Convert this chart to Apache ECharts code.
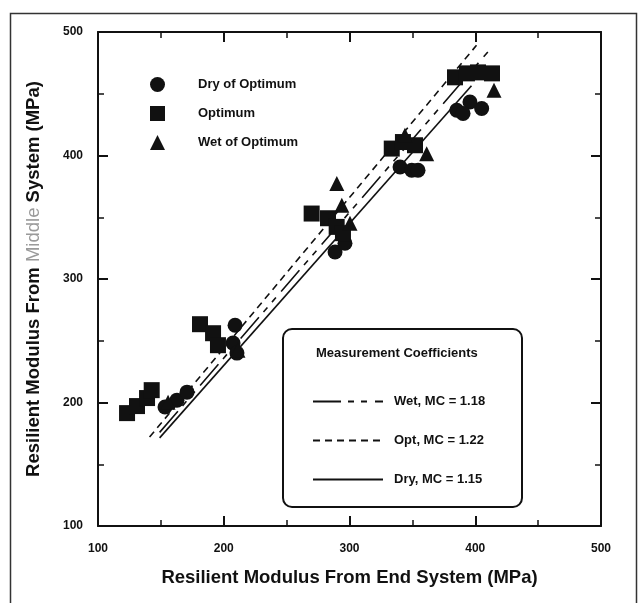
<!DOCTYPE html>
<html>
<head>
<meta charset="utf-8">
<script src="https://cdn.jsdelivr.net/npm/echarts@6/dist/echarts.min.js"></script>
<style>
  html, body { margin: 0; padding: 0; background: #fff; }
  #chart { width: 642px; height: 603px; }
</style>
</head>
<body>
<div id="chart"></div>
<script>
// Resilient modulus: middle system vs end system (MPa)
const dryOfOptimum = [
  [153.3, 196.3], [162.8, 201.9], [170.8, 208.4],
  [209.0, 262.6], [207.4, 248.1], [210.5, 240.0],
  [288.5, 321.9], [296.4, 329.0],
  [340.2, 390.7], [349.5, 388.0], [354.5, 388.0],
  [385.3, 436.6], [395.8, 443.3], [405.1, 438.0], [390.3, 434.1]
];
const optimum = [
  [123.1, 191.4], [131.0, 197.1], [139.0, 203.6], [142.7, 210.0],
  [181.1, 263.4], [191.5, 256.1], [195.4, 246.4],
  [269.9, 353.0], [282.9, 349.2], [289.8, 342.2], [294.8, 337.1],
  [333.6, 405.6], [342.5, 410.9], [352.1, 408.3],
  [383.9, 463.3], [393.4, 466.5], [402.2, 467.3], [413.3, 466.5]
];
const wetOfOptimum = [
  [155.7, 200.3], [211.3, 242.4],
  [289.9, 377.3], [293.9, 359.7], [300.4, 345.1],
  [344.1, 416.3], [361.4, 401.5],
  [414.9, 452.8]
];

// Fitted lines y = MC * x over the range each one spans
const fitNames = ['Wet, MC = 1.18', 'Opt, MC = 1.22', 'Dry, MC = 1.15'];
const fitCoefficients = [1.18, 1.22, 1.15];
const fitRanges = [[149, 410], [141, 401], [149, 397]];
const fitDashes = [[28, 7, 6, 7, 6, 8], [7, 5], 'solid'];

const xTicks = [100, 200, 300, 400, 500];
const yTicks = [100, 200, 300, 400, 500];

const FONT = '"Liberation Sans", Arial, sans-serif';
const INK = '#111';

const chart = echarts.init(document.getElementById('chart'), null, { renderer: 'canvas' });

function axisCommon(showLabels) {
  return {
    min: xTicks[0], max: xTicks[xTicks.length - 1], interval: 100,
    axisLine: { show: true, onZero: false, lineStyle: { color: INK, width: 2 } },
    axisTick: { show: true, inside: true, length: 10, lineStyle: { color: INK, width: 2 } },
    minorTick: { show: true, splitNumber: 2, length: 6, lineStyle: { color: INK, width: 1.5 } },
    splitLine: { show: false },
    axisLabel: showLabels
      ? { show: true, color: INK, fontFamily: FONT, fontWeight: 'bold', fontSize: 12 }
      : { show: false }
  };
}

const fitSeries = fitNames.map((name, i) => {
  const mc = fitCoefficients[i];
  const [x0, x1] = fitRanges[i];
  return {
    name: name,
    type: 'line',
    xAxisIndex: 0, yAxisIndex: 0,
    data: [[x0, mc * x0], [x1, mc * x1]],
    symbol: 'none',
    silent: true,
    itemStyle: { color: INK },
    lineStyle: { color: INK, width: 1.6, type: fitDashes[i] },
    z: 3
  };
});

const markerStyle = { color: INK, opacity: 1 };

const option = {
  backgroundColor: '#fff',
  animation: false,
  grid: { left: 98, right: 41, top: 32, bottom: 77 },
  xAxis: [
    Object.assign(axisCommon(true), {
      type: 'value', position: 'bottom',
      axisLabel: { show: true, color: INK, fontFamily: FONT, fontWeight: 'bold', fontSize: 12, margin: 17 },
      name: 'Resilient Modulus From End System (MPa)',
      nameLocation: 'middle', nameGap: 42,
      nameTextStyle: { color: INK, fontFamily: FONT, fontWeight: 'bold', fontSize: 18.5 }
    }),
    Object.assign(axisCommon(false), { type: 'value', position: 'top' })
  ],
  yAxis: [
    Object.assign(axisCommon(true), {
      type: 'value', position: 'left',
      min: yTicks[0], max: yTicks[yTicks.length - 1],
      axisLabel: { show: true, color: INK, fontFamily: FONT, fontWeight: 'bold', fontSize: 12, margin: 15 },
      name: '{a|Resilient Modulus From }{g|Middle}{a| System (MPa)}',
      nameLocation: 'middle', nameGap: 55, nameRotate: 90,
      nameTextStyle: {
        fontFamily: FONT, fontWeight: 'bold', fontSize: 18.5,
        rich: {
          a: { color: INK, fontFamily: FONT, fontWeight: 'bold', fontSize: 18.5 },
          g: { color: '#9a9a9a', fontFamily: FONT, fontWeight: 'normal', fontSize: 18.5 }
        }
      }
    }),
    Object.assign(axisCommon(false), {
      type: 'value', position: 'right',
      min: yTicks[0], max: yTicks[yTicks.length - 1]
    })
  ],
  legend: [
    {
      data: [
        { name: 'Dry of Optimum', icon: 'circle' },
        { name: 'Optimum', icon: 'rect' },
        { name: 'Wet of Optimum', icon: 'triangle' }
      ],
      orient: 'vertical', left: 145, top: 72,
      itemWidth: 15, itemHeight: 15, itemGap: 14,
      selectedMode: false,
      itemStyle: { color: INK, opacity: 1 },
      textStyle: { color: INK, fontFamily: FONT, fontWeight: 'bold', fontSize: 13, padding: [0, 0, 0, 28] }
    },
    {
      data: fitNames,
      orient: 'vertical', left: 307, top: 390,
      itemWidth: 70, itemHeight: 14, itemGap: 26,
      selectedMode: false,
      itemStyle: { opacity: 0 },
      textStyle: { color: INK, fontFamily: FONT, fontWeight: 'bold', fontSize: 13, padding: [0, 0, 0, 6] }
    }
  ],
  graphic: [
    {
      type: 'rect', left: 8, top: 11, z: 0,
      shape: { width: 626, height: 600 },
      style: { fill: 'none', stroke: '#333', lineWidth: 1.5 }
    },
    {
      type: 'rect', left: 282, top: 328, z: 1,
      shape: { width: 239, height: 178, r: 9 },
      style: { fill: '#fff', stroke: INK, lineWidth: 2 }
    },
    {
      type: 'text', left: 316, top: 347, z: 2,
      style: { text: 'Measurement Coefficients', fill: INK, font: 'bold 13px ' + FONT }
    }
  ],
  series: [
    {
      name: 'Dry of Optimum', type: 'scatter', symbol: 'circle', symbolSize: 15,
      data: dryOfOptimum, itemStyle: markerStyle, z: 4
    },
    {
      name: 'Optimum', type: 'scatter', symbol: 'rect', symbolSize: 16,
      data: optimum, itemStyle: markerStyle, z: 4
    },
    {
      name: 'Wet of Optimum', type: 'scatter', symbol: 'triangle', symbolSize: 15,
      data: wetOfOptimum, itemStyle: markerStyle, z: 4
    }
  ].concat(fitSeries)
};

chart.setOption(option);
</script>
</body>
</html>
